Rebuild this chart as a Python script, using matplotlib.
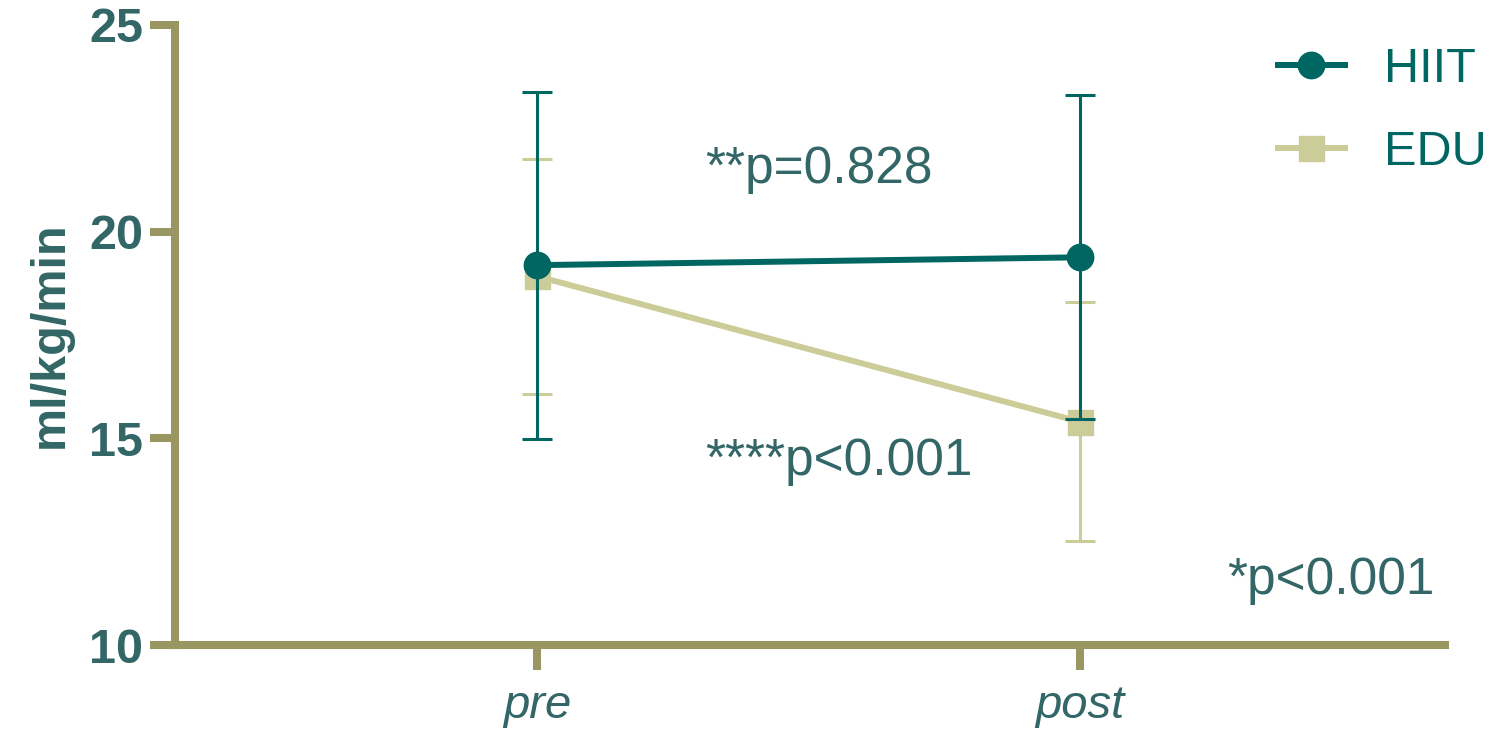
import numpy as np
import matplotlib.pyplot as plt
from matplotlib.lines import Line2D

plt.rcParams['font.family'] = ['Liberation Sans', 'DejaVu Sans']

timepoints = ['pre', 'post']
hiit_mean = [19.19, 19.38]
hiit_sd = [4.2, 3.92]
edu_mean = [18.92, 15.40]
edu_sd = [2.85, 2.89]
yticks = [10, 15, 20, 25]

spine_col = '#9A9662'
hiit_col = '#006661'
edu_col = '#CCCC99'
text_col = '#336666'

fig = plt.figure(figsize=(14.99, 7.35), dpi=100)
ax = fig.add_axes([0.1167, 0.1224, 0.8473, 0.8436])

x = np.arange(len(timepoints))

ax.errorbar(x, edu_mean, yerr=edu_sd, color=edu_col, lw=4.3, marker='s',
            ms=18, capsize=11, elinewidth=2.2, capthick=2.2, zorder=2)
ax.errorbar(x, hiit_mean, yerr=hiit_sd, color=hiit_col, lw=4.3, marker='o',
            ms=19, capsize=11, elinewidth=2.2, capthick=2.2, zorder=3)

ax.set_xlim(-0.667, 1.672)
ax.set_ylim(10, 25)
ax.set_yticks(yticks)
ax.set_xticks(x)
ax.set_xticklabels(timepoints, style='italic', fontsize=34, color=text_col)
ax.set_yticklabels([str(t) for t in yticks], fontweight='bold', fontsize=35,
                   color=text_col)
ax.set_ylabel('ml/kg/min', fontweight='bold', fontsize=35, color=text_col,
              labelpad=12)

for s in ['top', 'right']:
    ax.spines[s].set_visible(False)
for s in ['left', 'bottom']:
    ax.spines[s].set_color(spine_col)
    ax.spines[s].set_linewidth(5.8)
ax.tick_params(axis='both', colors=spine_col, width=5.8, length=18)
ax.tick_params(axis='y', pad=5)
ax.tick_params(axis='x', pad=10)
for lbl in ax.get_xticklabels() + ax.get_yticklabels():
    lbl.set_color(text_col)

ax.text(0.31, 21.5, '**p=0.828', fontsize=37, color=text_col, ha='left', va='center')
ax.text(0.31, 14.45, '****p<0.001', fontsize=37, color=text_col, ha='left', va='center')
ax.text(1.27, 11.55, '*p<0.001', fontsize=37, color=text_col, ha='left', va='center')

handles = [Line2D([], [], color=hiit_col, lw=4.3, marker='o', ms=19),
           Line2D([], [], color=edu_col, lw=4.3, marker='s', ms=18)]
leg = fig.legend(handles, ['HIIT', 'EDU'], loc='upper left', frameon=False,
                 fontsize=35, handlelength=1.37, handletextpad=0.82,
                 labelspacing=0.78, borderpad=0.0, borderaxespad=0.0,
                 bbox_to_anchor=(1278 / 1499, 1 - 47 / 735))
for t in leg.get_texts():
    t.set_color(hiit_col)

fig.savefig('out.png', dpi=100)
